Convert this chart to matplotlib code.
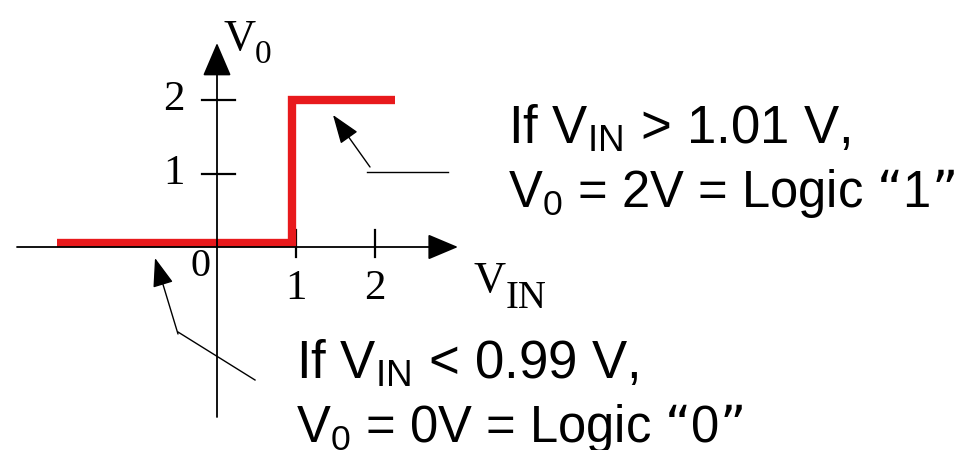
import matplotlib.pyplot as plt

# transfer curve of the comparator: V_IN -> V_0
vin = [-2.03, 0.95, 0.95, 2.25]
vout = [0.05, 0.05, 2.0, 2.0]

xtick_vals = [1, 2]
ytick_vals = [1, 2]
xtick_labels = ['1', '2']
ytick_labels = ['1', '2']

text_high = ['If V$_\\mathregular{IN}$ > 1.01 V,', 'V$_\\mathregular{0}$ = 2V = Logic \u201c1\u201d']
text_low = ['If V$_\\mathregular{IN}$ < 0.99 V,', 'V$_\\mathregular{0}$ = 0V = Logic \u201c0\u201d']

# pixel scale of the drawing: 79 px per volt in x, 73.5 px per volt in y
XU, YU = 79.0, 73.5
X0, Y0 = 217.0, 247.0


def px(x, y):
    return (x - X0) / XU, (Y0 - y) / YU


fig = plt.figure(figsize=(9.59, 4.5), dpi=100)
ax = fig.add_axes([0, 0, 1, 1])
ax.set_xlim(-X0 / XU, (959 - X0) / XU)
ax.set_ylim(-(450 - Y0) / YU, Y0 / YU)
ax.axis('off')

# axes with arrow heads
ax.annotate('', xy=px(458, 247), xytext=px(17, 247),
            arrowprops=dict(arrowstyle='-|>,head_length=1.9,head_width=0.8',
                            mutation_scale=10, lw=1.3, color='black',
                            shrinkA=0, shrinkB=0))
ax.annotate('', xy=px(217, 43), xytext=px(217, 417),
            arrowprops=dict(arrowstyle='-|>,head_length=2.1,head_width=0.9',
                            mutation_scale=10, lw=1.3, color='black',
                            shrinkA=0, shrinkB=0))

# ticks
for v in xtick_vals:
    ax.plot([v, v], [px(0, 230)[1], px(0, 257)[1]], color='black', lw=1.6)
for v in ytick_vals:
    ax.plot([px(202, 0)[0], px(235, 0)[0]], [v, v], color='black', lw=1.6)

serif = 'Liberation Serif'
for v, lab in zip(xtick_vals, xtick_labels):
    ax.text(v, px(0, 289)[1], lab, family=serif, fontsize=31, ha='center', va='center')
for v, lab in zip(ytick_vals, ytick_labels):
    ax.text(px(174, 0)[0], v, lab, family=serif, fontsize=31, ha='center', va='center')
ax.text(*px(201, 267), '0', family=serif, fontsize=29, ha='center', va='center')

# axis names
ax.text(*px(224, 50), 'V', family=serif, fontsize=32, va='baseline')
ax.text(*px(255, 63), '0', family=serif, fontsize=24, va='baseline')
ax.text(*px(474, 292), 'V', family=serif, fontsize=32, va='baseline')
ax.text(*px(506, 308), 'IN', family=serif, fontsize=28, va='baseline')

# red transfer curve
ax.plot(vin, vout, color='#e8191c', lw=6, solid_joinstyle='miter', solid_capstyle='butt')

# callout arrows
ax.annotate('', xy=px(333, 115), xytext=px(370, 167),
            arrowprops=dict(arrowstyle='-|>,head_length=1.8,head_width=0.65',
                            mutation_scale=10, lw=1.0, color='black',
                            shrinkA=0, shrinkB=0))
ax.plot(*zip(px(367, 172), px(448, 172)), color='black', lw=1.0)
ax.annotate('', xy=px(155, 258), xytext=px(178, 334),
            arrowprops=dict(arrowstyle='-|>,head_length=1.8,head_width=0.65',
                            mutation_scale=10, lw=1.0, color='black',
                            shrinkA=0, shrinkB=0))
ax.plot(*zip(px(178, 332), px(255, 380)), color='black', lw=1.0)

# condition texts
sans = 'Liberation Sans'
ax.text(*px(508, 143), text_high[0], family=sans, fontsize=38, va='baseline')
ax.text(*px(508, 207), text_high[1], family=sans, fontsize=36.5, va='baseline')
ax.text(*px(296, 378), text_low[0], family=sans, fontsize=38, va='baseline')
ax.text(*px(296, 442), text_low[1], family=sans, fontsize=36.5, va='baseline')

fig.savefig('out.png', dpi=100)
